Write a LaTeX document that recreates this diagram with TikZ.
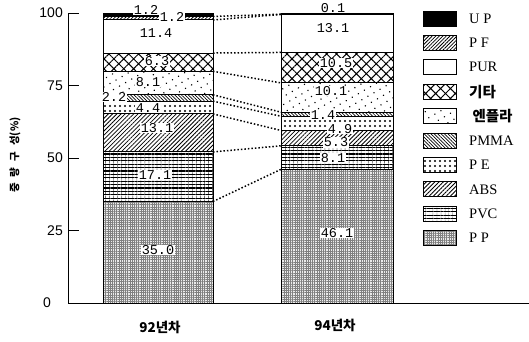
\documentclass[tikz,border=0pt]{standalone}
\usepackage{fontspec}
\setmainfont{Liberation Serif}
\newfontfamily\kor{Noto Sans CJK KR}
\newfontfamily\numf{Liberation Mono}
\newfontfamily\axf{Liberation Sans}
\usetikzlibrary{positioning,patterns,patterns.meta}
\tikzset{
  seg/.style={draw, line width=1pt},
  link/.style={dotted, line width=1.5pt},
  axis/.style={line width=1pt},
  val/.style={fill=white, inner sep=.6pt, font=\numf\fontsize{13.5}{13.5}\selectfont},
  tick/.style={font=\axf\fontsize{14}{14}\selectfont, inner sep=1pt},
  yr/.style={font=\kor\bfseries\fontsize{13.5}{13.5}\selectfont},
  key/.style={anchor=west, inner sep=0pt, font=\fontsize{14.5}{14.5}\selectfont},
  PP/.style={preaction={fill=black!8},
    pattern={Hatch[angle=0,distance=2.2pt,line width=.3pt]}, pattern color=black!50},
  PVC/.style={preaction={pattern={Lines[angle=90,distance=4pt,line width=.35pt]}},
    pattern={Lines[angle=0,distance=3.4pt,line width=1.3pt]}},
  ABS/.style={pattern={Lines[angle=45,distance=3pt,line width=.8pt]}},
  PE/.style={pattern={Dots[distance=5pt,radius=1.1pt]}},
  PMMA/.style={pattern={Lines[angle=-45,distance=2.4pt,line width=.7pt]}},
  ENPLA/.style={pattern={Dots[distance=7pt,radius=.8pt,angle=30]}},
  ETC/.style={pattern={Hatch[angle=45,distance=7pt,line width=1pt]}},
  PUR/.style={fill=white},
  PF/.style={pattern={Lines[angle=45,distance=2.5pt,line width=.8pt]}},
  UP/.style={fill=black}
}
\begin{document}
\begin{tikzpicture}[x=1pt,y=-1pt]
\useasboundingbox (0,0) rectangle (529,341);

% chart, values in percent
\begin{scope}[shift={(0,303)}, y=2.9pt]

  \foreach \lo/\hi/\m in {0/35/PP, 35/52.1/PVC, 52.1/65.2/ABS, 65.2/69.6/PE, 69.6/71.8/PMMA,
      71.8/79.9/ENPLA, 79.9/86.2/ETC, 86.2/97.6/PUR, 97.6/98.8/PF, 98.8/100/UP}
    \draw[seg,\m] (103,\lo) rectangle (213,\hi);

  \foreach \lo/\hi/\m in {0/46.1/PP, 46.1/54.2/PVC, 54.2/59.5/ABS, 59.5/64.4/PE, 64.4/65.8/PMMA,
      65.8/75.9/ENPLA, 75.9/86.4/ETC, 86.4/99.5/PUR, 99.5/99.6/PF, 99.6/100/UP}
    \draw[seg,\m] (281,\lo) rectangle (393,\hi);

  \foreach \a/\b [count=\i] in {35/46.1, 52.1/54.2, 65.2/59.5, 69.6/64.4, 71.8/65.8,
      79.9/75.9, 86.2/86.4, 97.6/99.5, 98.8/99.6}{
    \coordinate (l\i) at (213,\a);
    \coordinate (r\i) at (281,\b);
    \draw[link] (l\i) -- (r\i);
  }

  % values, 92
  \node[val] (a1) at (158,18.3) {35.0};
  \node[val] (a2) at (155,44.1) {17.1};
  \node[val] (a3) at (157,60.3) {13.1};
  \node[val] (a4) at (148,67.2) {4.4};
  \node[val] (a5) at (114,71.0) {2.2};
  \node[val] (a6) at (148,76.2) {8.1};
  \node[val] (a7) at (157,83.4) {6.3};
  \node[val] (a8) at (156,93.1) {11.4};
  \node[val] (a9) at (172,98.6) {1.2};
  \node[val] (a10) at (146,101.0) {1.2};

  % values, 94
  \node[val] (b1) at (337,24.1) {46.1};
  \node[val] (b2) at (333,50.0) {8.1};
  \node[val] (b3) at (336,55.4) {5.3};
  \node[val] (b4) at (340,59.9) {4.9};
  \node[val] (b5) at (323,64.8) {1.4};
  \node[val] (b6) at (331,73.1) {10.1};
  \node[val] (b7) at (336,82.8) {10.5};
  \node[val] (b8) at (333,94.8) {13.1};
  \node[val] (b9) at (333,101.7) {0.1};

  % axes
  \draw[axis] (68,100) -- (68,0) -- (529,0);
  \foreach \v in {25,50,75,100}{
    \draw[axis] (68,\v) -- ++(11,0);
    \node[tick, anchor=east] (t\v) at (64,\v) {\v};
  }
  \node[tick] (t0) at (47,0) {0};

  \node[yr] (x1) at (160,-8.3) {92년차};
  \node[yr] (x2) at (335,-7.6) {94년차};
  \node[rotate=90, font=\kor\bfseries\fontsize{10.5}{10.5}\selectfont] (ylab) at (15,51)
    {중\hspace{6pt}량\hspace{6pt}구\hspace{6pt}성(\%)};
\end{scope}

% legend
\foreach \m/\t [count=\i from 0] in {UP/{U P}, PF/{P F}, PUR/PUR, ETC/{\kor\bfseries 기타},
    ENPLA/{\kor\bfseries\ 엔플라}, PMMA/PMMA, PE/{P E}, ABS/ABS, PVC/PVC, PP/{P P}}{
  \draw[seg,\m] (423,{11+24.4*\i}) rectangle (456,{26+24.4*\i});
  \node[key] (k\i) at (469,{18.5+24.4*\i}) {\t};
}
\end{tikzpicture}
\end{document}
